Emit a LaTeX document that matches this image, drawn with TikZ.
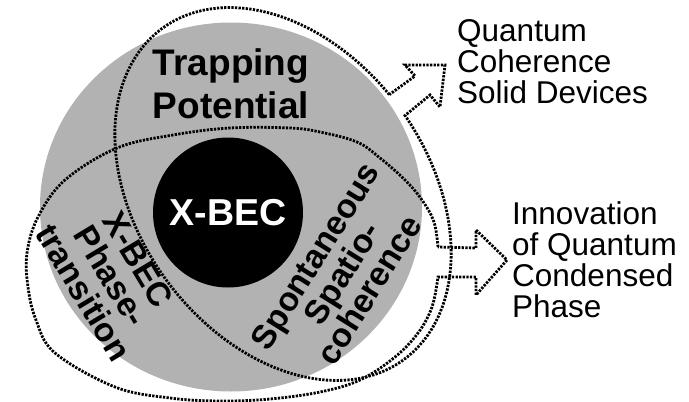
\documentclass[tikz,border=0pt]{standalone}
\usepackage{fontspec}
\setmainfont{Liberation Sans}
\begin{document}
\begin{tikzpicture}[x=1pt, y=1pt,
		rim/.style={line width=2.8pt, dash pattern=on 2.3pt off 1.3pt},
		bold/.style={font=\fontsize{33.5}{32}\selectfont\bfseries, align=center, inner sep=0pt},
		plain/.style={font=\fontsize{31.5}{31}\selectfont, align=left, inner sep=0pt}]
			\useasboundingbox (0,0) rectangle (689,-402);
			\fill[black!30] (231,-207) ellipse [x radius=191, y radius=184.5];
			
			\node[circle, fill=black, text=white, minimum size=150pt, inner sep=0pt,
				font=\fontsize{37.5}{43}\selectfont\bfseries] (core) at (228,-212.5) {X-BEC};
			\node[bold, font=\fontsize{37}{43}\selectfont\bfseries] (trap) at (231,-83.5) {Trapping\\Potential};
			\node[bold, rotate=-59] (phase) at (111,-276) {X-BEC\\Phase-\\transition};
			\node[bold, rotate=58] (coh) at (342,-273) {Spontaneous\\Spatio-\\coherence};
			
			% tilted ellipse with arrow to the upper right
			\draw[rim] plot[domain=95:447.7, samples=120, variable=\t]
				({283+205*cos(\t)*0.588+145*sin(\t)*0.809}, {-194-205*cos(\t)*0.809+145*sin(\t)*0.588})
				-- (430,-95) -- (440,-107) -- (445,-65) -- (405,-65) -- (415,-76) -- cycle;
			
			% flat ellipse with arrow to the right
			\draw[rim] plot[smooth, tension=0.6] coordinates {(438,-247) (434,-222) (422,-200) (405,-180)
				(380,-158) (357,-142) (320,-132) (290,-128) (230,-128) (173,-135) (117,-148) (65,-180)
				(38,-217) (27,-253) (28,-287) (36,-320) (55,-353) (115,-387) (170,-398) (220,-401)
				(270,-399) (320,-392) (360,-380) (395,-357) (418,-333) (432,-307) (438,-277)}
				-- (476,-277) -- (476,-295) -- (507,-260) -- (476,-230) -- (476,-248) -- cycle;
			
			\node[plain, anchor=west] (devices) at (457,-62) {Quantum\\Coherence\\Solid Devices};
			\node[plain, anchor=west] (innov) at (512,-260) {Innovation\\of Quantum\\Condensed\\Phase};
		\end{tikzpicture}
\end{document}
